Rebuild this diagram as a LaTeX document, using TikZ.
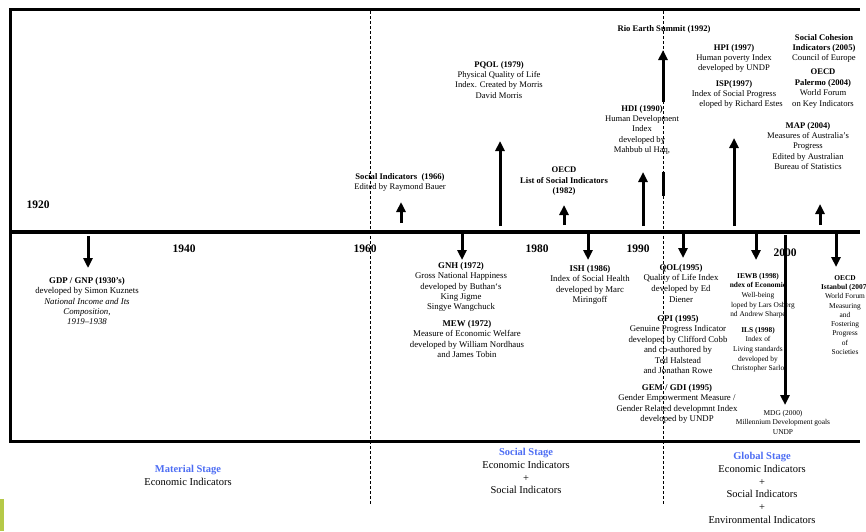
\documentclass[tikz,border=0pt]{standalone}
\usepackage{fontspec}
\setmainfont{Liberation Serif}
\usetikzlibrary{arrows.meta}
\definecolor{stageblue}{RGB}{77,109,243}
\definecolor{barpaint}{RGB}{181,201,72}
\tikzset{
  lbl/.style={align=center, inner sep=0pt, anchor=north, font=\fontsize{8.6}{10.4}\selectfont},
  smalllbl/.style={lbl, font=\fontsize{7.4}{9.6}\selectfont},
  yearlbl/.style={inner sep=0pt, font=\bfseries\fontsize{11.5}{13}\selectfont},
  stagelbl/.style={align=center, inner sep=0pt, anchor=north, font=\fontsize{10.5}{12.8}\selectfont},
  arr/.style={line width=3pt, -{Triangle[width=9pt,length=10pt]}},
  guide/.style={line width=0.7pt, dash pattern=on 3pt off 2pt},
}
\begin{document}
\begin{tikzpicture}[x=1pt,y=-1pt]
\path[use as bounding box] (0,0) rectangle (866,531);
% guides
\coordinate (g1a) at (370.5,11); \coordinate (g1b) at (370.5,504);
\coordinate (g2a) at (663,11); \coordinate (g2b) at (663,505);
\draw[guide] (g1a) -- (g1b);
\draw[guide] (g2a) -- (g2b);
% frame
\coordinate (fTR) at (860,9.5); \coordinate (fTL) at (10.5,9.5);
\coordinate (fBL) at (10.5,441); \coordinate (fBR) at (860,441);
\draw[line width=3pt] (fTR) -- (fTL) -- (fBL) -- (fBR);
\coordinate (tlL) at (10,232); \coordinate (tlR) at (860,232);
\draw[line width=4pt] (tlL) -- (tlR);
\fill[barpaint] (0,499) rectangle (3.5,531);

% years
\node[yearlbl] (y1920) at (38,205) {1920};
\node[yearlbl] (y1940) at (184,249) {1940};
\node[yearlbl] (y1960) at (365,249) {1960};
\node[yearlbl] (y1980) at (537,249) {1980};
\node[yearlbl] (y1990) at (638,249) {1990};
\node[yearlbl] (y2000) at (785,253) {2000};

% ---------- upper events
\node[lbl] (si) at (400,173) {\textbf{Social Indicators~~(1966)}\\Edited by Raymond Bauer};
\coordinate (siA) at (401,223); \coordinate (siB) at (401,202);
\draw[arr] (siA) -- (siB);

\node[lbl] (pqol) at (499,61) {\textbf{PQOL (1979)}\\Physical Quality of Life\\Index. Created by Morris\\David Morris};
\coordinate (pqA) at (500,226); \coordinate (pqB) at (500,141);
\draw[arr] (pqA) -- (pqB);

\node[lbl] (oecd82) at (564,167) {\textbf{OECD}\\\textbf{List of Social Indicators}\\\textbf{(1982)}};
\coordinate (o8A) at (564,225); \coordinate (o8B) at (564,205);
\draw[arr] (o8A) -- (o8B);

\node[lbl] (hdi) at (642,105) {\textbf{HDI (1990)}\\Human Development\\Index\\developed by\\Mahbub ul Haq,};
\coordinate (hdA) at (643,226); \coordinate (hdB) at (643,172);
\draw[arr] (hdA) -- (hdB);

\node[lbl, anchor=center, font=\bfseries\fontsize{8.6}{10.4}\selectfont] (rio) at (664,29) {Rio Earth Summit (1992)};
\coordinate (rioA) at (663,102); \coordinate (rioB) at (663,50);
\draw[arr] (rioA) -- (rioB);
\coordinate (rbA) at (663,172); \coordinate (rbB) at (663,196);
\draw[line width=3pt] (rbA) -- (rbB);

\node[lbl] (hpi) at (734,44) {\textbf{HPI (1997)}\\Human poverty Index\\developed by UNDP};
\node[lbl] (isp) at (734,80) {\textbf{ISP(1997)}\\Index of Social Progress\\\hspace*{14pt}eloped by Richard Estes};
\coordinate (ispA) at (734,226); \coordinate (ispB) at (734,138);
\draw[arr] (ispA) -- (ispB);

\node[lbl] (scoh) at (824,34) {\textbf{Social Cohesion}\\\textbf{Indicators (2005)}\\Council of Europe};
\node[lbl] (palermo) at (823,69) {\textbf{OECD}\\\textbf{Palermo (2004)}\\World Forum\\on Key Indicators};
\node[lbl] (map) at (808,122) {\textbf{MAP (2004)}\\Measures of Australia's\\Progress\\Edited by Australian\\Bureau of Statistics};
\coordinate (mapA) at (820,225); \coordinate (mapB) at (820,204);
\draw[arr] (mapA) -- (mapB);

% ---------- lower events
\coordinate (gdpA) at (88,236); \coordinate (gdpB) at (88,268);
\draw[arr] (gdpA) -- (gdpB);
\node[lbl, font=\fontsize{8.8}{10.4}\selectfont] (gdp) at (87,277) {\textbf{GDP / GNP (1930's)}\\developed by Simon Kuznets\\\textit{National Income and Its}\\\textit{Composition,}\\\textit{1919–1938}};

\coordinate (gnhA) at (462,234); \coordinate (gnhB) at (462,260);
\draw[arr] (gnhA) -- (gnhB);
\node[lbl, font=\fontsize{8.8}{10.4}\selectfont] (gnh) at (461,262) {\textbf{GNH (1972)}\\Gross National Happiness\\developed by Buthan`s\\King Jigme\\Singye Wangchuck};
\node[lbl, font=\fontsize{8.8}{10.4}\selectfont] (mew) at (467,320) {\textbf{MEW (1972)}\\Measure of Economic Welfare\\developed by William Nordhaus\\and James Tobin};

\coordinate (ishA) at (588,234); \coordinate (ishB) at (588,260);
\draw[arr] (ishA) -- (ishB);
\node[lbl, font=\fontsize{8.8}{10.4}\selectfont] (ish) at (590,265) {\textbf{ISH (1986)}\\Index of Social Health\\developed by Marc\\Miringoff};

\coordinate (qolA) at (683,234); \coordinate (qolB) at (683,258);
\draw[arr] (qolA) -- (qolB);
\node[lbl, font=\fontsize{8.8}{10.6}\selectfont] (qol) at (681,264) {\textbf{QOL(1995)}\\Quality of Life Index\\developed by Ed\\Diener};
\node[lbl, font=\fontsize{8.8}{10.5}\selectfont] (gpi) at (678,315) {\textbf{GPI (1995)}\\Genuine Progress Indicator\\developed by Clifford Cobb\\and co-authored by\\Ted Halstead\\and Jonathan Rowe};
\node[lbl, font=\fontsize{8.8}{10.4}\selectfont] (gem) at (677,384) {\textbf{GEM / GDI (1995)}\\Gender Empowerment Measure /\\Gender Related developmnt Index\\developed by UNDP};

\coordinate (iewA) at (756,234); \coordinate (iewB) at (756,260);
\draw[arr] (iewA) -- (iewB);
\node[smalllbl] (iewb) at (758,273) {\textbf{IEWB (1998)}\\\textbf{ndex of Economic}\\Well-being\\\hspace*{10pt}loped by Lars Osberg\\nd Andrew Sharpe};
\node[smalllbl] (ils) at (758,327) {\textbf{ILS (1998)}\\Index of\\Living standards\\developed by\\Christopher Sarlo};

\coordinate (oisA) at (836,234); \coordinate (oisB) at (836,267);
\draw[arr] (oisA) -- (oisB);
\node[smalllbl, font=\fontsize{7.4}{9.3}\selectfont] (istanbul) at (845,275) {\textbf{OECD}\\\textbf{Istanbul (2007)}\\World Forum\\Measuring\\and\\Fostering\\Progress\\of\\Societies};

\node[smalllbl] (mdg) at (783,410) {MDG (2000)\\Millennium Development goals\\UNDP};
\coordinate (mdgA) at (785,235); \coordinate (mdgB) at (785,405);
\draw[arr] (mdgA) -- (mdgB);

% ---------- stages
\node[stagelbl] (material) at (188,465) {\textcolor{stageblue}{\textbf{Material Stage}}\\Economic Indicators};
\node[stagelbl] (social) at (526,448) {\textcolor{stageblue}{\textbf{Social Stage}}\\Economic Indicators\\+\\Social Indicators};
\node[stagelbl] (global) at (762,452) {\textcolor{stageblue}{\textbf{Global Stage}}\\Economic Indicators\\+\\Social Indicators\\+\\Environmental Indicators};
\end{tikzpicture}
\end{document}
